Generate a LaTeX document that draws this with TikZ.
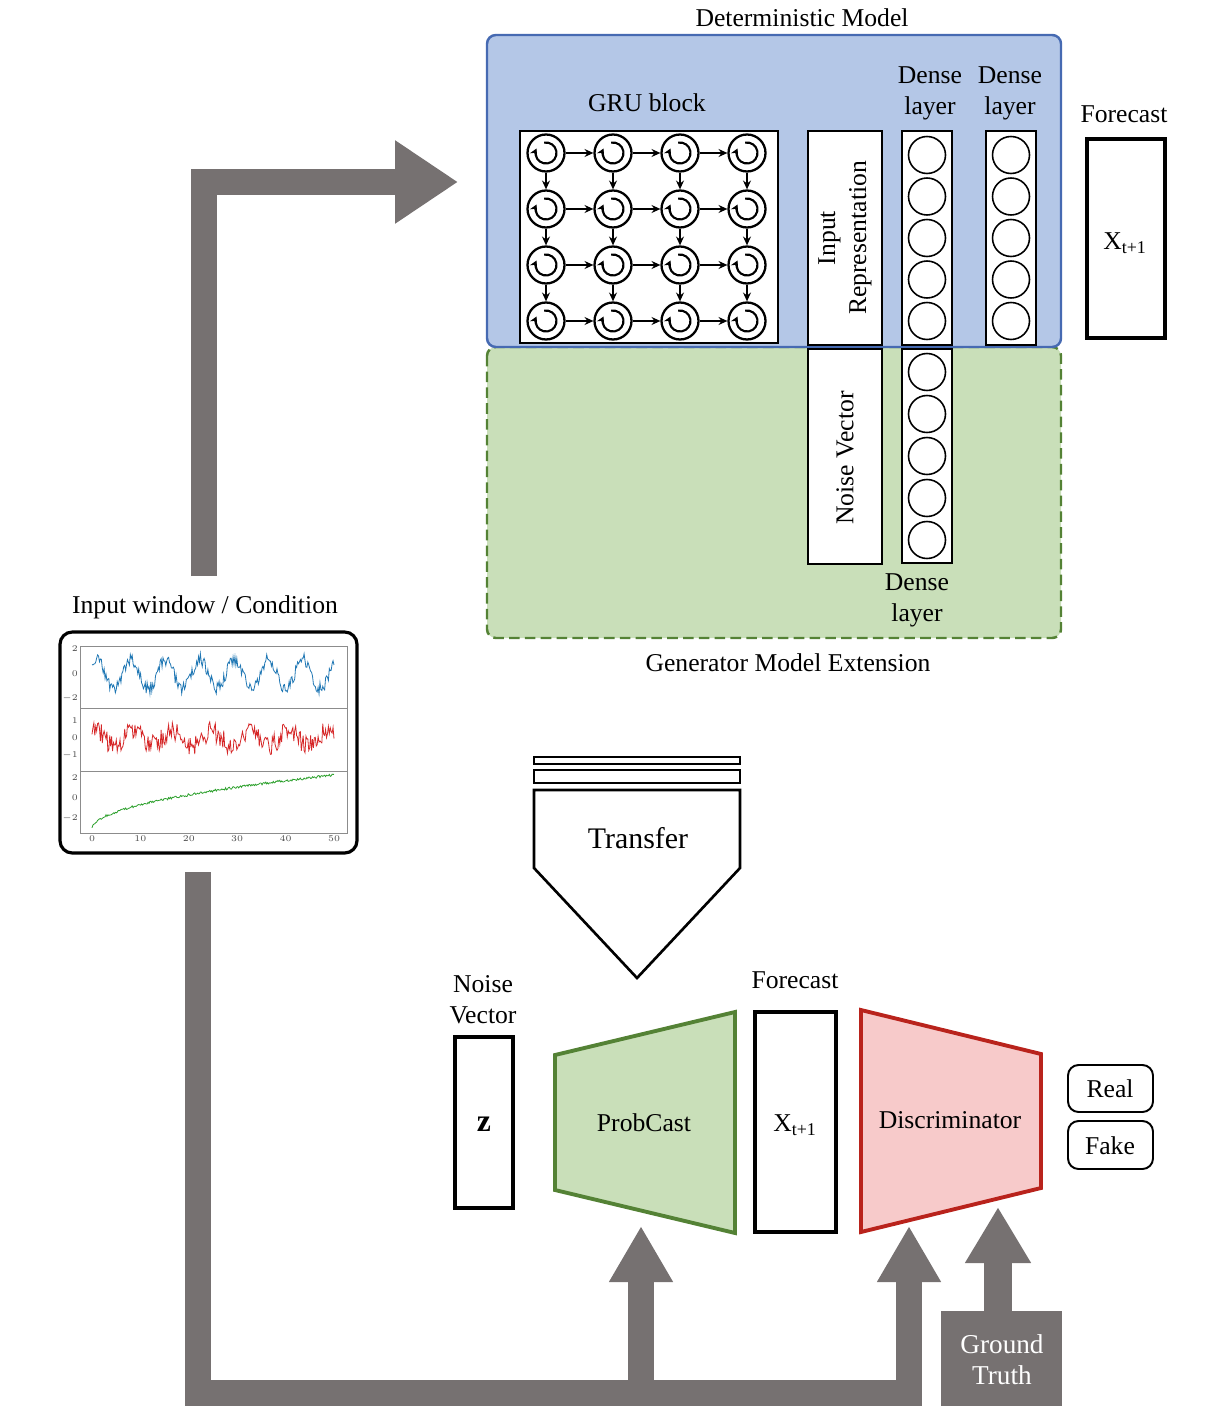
\documentclass[tikz,border=0pt]{standalone}
\usepackage{fontspec}
\setmainfont{Liberation Serif}
\usetikzlibrary{arrows.meta}

\definecolor{detfill}{RGB}{180,199,231}
\definecolor{detline}{RGB}{70,106,178}
\definecolor{genfill}{RGB}{201,223,185}
\definecolor{genline}{RGB}{84,130,53}
\definecolor{disfill}{RGB}{247,202,202}
\definecolor{disline}{RGB}{185,35,28}
\definecolor{arrowgray}{RGB}{118,113,113}
\definecolor{plotblue}{RGB}{31,119,180}
\definecolor{plotred}{RGB}{214,39,40}
\definecolor{plotgreen}{RGB}{44,160,44}

\tikzset{
    lbl/.style={font=\fontsize{14.6}{17.6}\selectfont, align=center, inner sep=1pt},
    biglbl/.style={font=\fontsize{17}{19}\selectfont, align=center},
    gru/.style={circle, draw, line width=1.3pt, minimum size=0.74cm, inner sep=0pt},
    unit/.style={circle, draw, line width=0.9pt, minimum size=0.74cm, inner sep=0pt},
    thinbox/.style={draw, line width=1.1pt, fill=white},
    heavybox/.style={draw, line width=2.4pt, fill=white},
    grayarrow/.style={draw=arrowgray, line width=0.53cm, -{Triangle[width=1.58cm,length=1.26cm]}},
    busarrow/.style={draw=arrowgray, line width=0.53cm, -{Triangle[width=1.2cm,length=1.12cm]}},
    smallarrow/.style={draw=arrowgray, line width=0.56cm, -{Triangle[width=1.24cm,length=1.12cm]}},
    tick/.style={font=\fontsize{3.2}{3.5}\selectfont, text=black!70, inner sep=0.5pt},
}

\begin{document}
\begin{tikzpicture}[x=0.02cm, y=-0.02cm]
    \useasboundingbox (0,0) rectangle (1231,1422);

    % deterministic model and generator extension
    \draw[genline, fill=genfill, line width=1.4pt, dashed, dash pattern=on 6pt off 3pt, rounded corners=5pt] (487,347) rectangle (1061,638);
    \draw[detline, fill=detfill, line width=1.4pt, rounded corners=5pt] (487,35) rectangle (1061,347);
    \node[lbl] (detlabel) at (802,18) {Deterministic Model};
    \node[lbl] (genlabel) at (788,663) {Generator Model Extension};

    % GRU block
    \node[lbl] (grulabel) at (647,103) {GRU block};
    \draw[thinbox] (520,131) rectangle (778,343);
    \foreach \r in {1,...,4}
        \foreach \c in {1,...,4} {
            \node[gru, fill=white] (g\r\c) at ({546+67*(\c-1)}, {153+56*(\r-1)}) {};
            \draw[line width=1.2pt, -{Stealth[length=4pt,width=4.5pt]}] (g\r\c) ++(100:0.21cm) arc[start angle=100, end angle=-205, radius=0.21cm];
        }
    \foreach \r in {1,...,4}
        \foreach \c/\n in {1/2,2/3,3/4}
            \draw[line width=0.9pt, -{Stealth[length=5pt,width=4.5pt]}] (g\r\c) -- (g\r\n);
    \foreach \c in {1,...,4}
        \foreach \r/\n in {1/2,2/3,3/4}
            \draw[line width=0.9pt, -{Stealth[length=5pt,width=4.5pt]}] (g\r\c) -- (g\n\c);

    % input representation and noise vector
    \draw[thinbox] (808,131) rectangle (882,345);
    \node[lbl, rotate=90] (inrep) at (845,238) {Input\\Representation};
    \draw[thinbox] (808,349) rectangle (882,564);
    \node[lbl, rotate=90] (noisevec) at (845,458) {Noise Vector};

    % dense layers
    \node[lbl] (dlabela) at (930,93) {Dense\\layer};
    \node[lbl] (dlabelb) at (1010,93) {Dense\\layer};
    \node[lbl] (dlabelc) at (917,600) {Dense\\layer};
    \draw[thinbox] (902,131) rectangle (952,345);
    \draw[thinbox] (986,131) rectangle (1036,345);
    \draw[thinbox] (902,349) rectangle (952,563);
    \foreach \i in {0,...,4} {
        \node[unit] (da\i) at (927, {155+41.5*\i}) {};
        \node[unit] (db\i) at (1011, {155+41.5*\i}) {};
        \node[unit] (dc\i) at (927, {372+42*\i}) {};
    }

    % forecast of deterministic model
    \node[lbl] (fclabel) at (1124,114) {Forecast};
    \draw[heavybox] (1087,139) rectangle (1165,338);
    \node[lbl] (fcx) at (1125,243) {X\textsubscript{t+1}};

    % input window
    \node[lbl] (winlabel) at (205,607) {Input window / Condition};
    \draw[line width=1.8pt, rounded corners=7pt, fill=white] (60,632) rectangle (357,853);
    \draw[black!45, line width=0.4pt] (80,646) rectangle (347,833) (80,708) -- (347,708) (80,771) -- (347,771);
    \pgfmathsetseed{11}
    \begin{scope}
        \clip (80,646) rectangle (347,708);
        \draw[plotblue, line width=0.45pt] plot[domain=0:50, samples=260] ({92+4.84*\x}, {674-12.5*(1.15*sin(\x*50.7+40)+0.5*rand)});
    \end{scope}
    \begin{scope}
        \clip (80,708) rectangle (347,771);
        \draw[plotred, line width=0.45pt] plot[domain=0:50, samples=260] ({92+4.84*\x}, {738-17*(0.4*sin(\x*45+60)+0.6*rand)});
    \end{scope}
    \begin{scope}
        \clip (80,771) rectangle (347,833);
        \draw[plotgreen, line width=0.45pt] plot[domain=0:50, samples=260] ({92+4.84*\x}, {798-10*(-3.1+5.4*sqrt(\x/50)+0.12*rand)});
    \end{scope}
    \foreach \v/\y in {2/649,0/674,-2/698}
        \node[tick, anchor=east] (tb\y) at (79,\y) {$\v$};
    \foreach \v/\y in {1/721,0/738,-1/755}
        \node[tick, anchor=east] (tr\y) at (79,\y) {$\v$};
    \foreach \v/\y in {2/778,0/798,-2/818}
        \node[tick, anchor=east] (tg\y) at (79,\y) {$\v$};
    \foreach \v in {0,10,...,50}
        \node[tick, anchor=north] (tx\v) at ({92+4.84*\v},835) {$\v$};

    % transfer
    \draw[line width=1.5pt] (534,757) rectangle (740,764);
    \draw[line width=1.5pt] (534,770) rectangle (740,783);
    \draw[line width=1.5pt, fill=white] (534,790) -- (740,790) -- (740,868) -- (637,978) -- (534,868) -- cycle;
    \node[biglbl] (transfer) at (638,838) {Transfer};

    % generator / discriminator
    \node[lbl] (zlabel) at (483,1000) {Noise\\Vector};
    \draw[heavybox] (455,1037) rectangle (513,1208);
    \node[lbl, font=\fontsize{18}{20}\selectfont\bfseries] (z) at (484,1124) {z};

    \draw[genline, fill=genfill, line width=2.2pt, line join=miter] (555,1055) -- (735,1012) -- (735,1233) -- (555,1190) -- cycle;
    \node[lbl] (probcast) at (644,1123) {ProbCast};

    \node[lbl] (fclabelb) at (795,980) {Forecast};
    \draw[heavybox] (755,1012) rectangle (836,1232);
    \node[lbl] (fcxb) at (795,1125) {X\textsubscript{t+1}};

    \draw[disline, fill=disfill, line width=2.2pt, line join=miter] (861,1010) -- (1041,1054) -- (1041,1188) -- (861,1232) -- cycle;
    \node[lbl] (disc) at (950,1120) {Discriminator};

    \draw[line width=1.1pt, rounded corners=6pt] (1068,1065) rectangle (1153,1112);
    \node[lbl] (real) at (1110,1089) {Real};
    \draw[line width=1.1pt, rounded corners=6pt] (1068,1121) rectangle (1153,1169);
    \node[lbl] (fake) at (1110,1146) {Fake};

    \fill[arrowgray] (941,1311) rectangle (1062,1406);
    \node[lbl, text=white, font=\fontsize{15.5}{17.5}\selectfont] (gt) at (1002,1360) {Ground\\Truth};

    % block arrows
    \coordinate (wintop) at (204,576);
    \coordinate (corner) at (204,182);
    \coordinate (detin) at (458,182);
    \coordinate (winbot) at (198,872);
    \coordinate (busend) at (909,1393);
    \coordinate (busmid) at (641,1393);
    \coordinate (pcin) at (641,1226);
    \coordinate (discin) at (909,1226);
    \coordinate (gttop) at (998,1311);
    \coordinate (gtin) at (998,1207);
    \draw[grayarrow] (wintop) -- (corner) -- (detin);
    \draw[busarrow] (winbot) |- (busend) -- (discin);
    \draw[busarrow] (busmid) -- (pcin);
    \draw[smallarrow] (gttop) -- (gtin);
\end{tikzpicture}
\end{document}
